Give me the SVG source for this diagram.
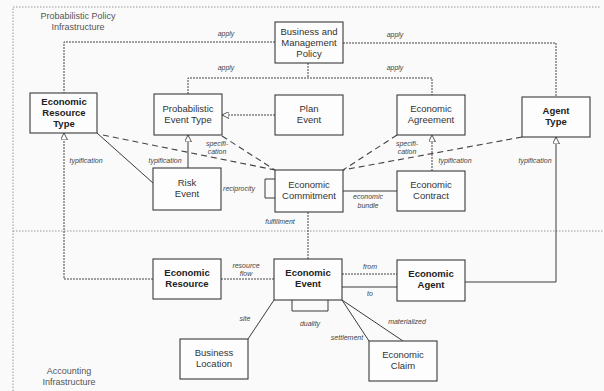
<svg xmlns="http://www.w3.org/2000/svg" width="604" height="391" viewBox="0 0 604 391">
<defs>
<style>
.box{fill:#fdfdfd;stroke:#3a3a3a;stroke-width:1.1}
.t{font-family:"Liberation Sans",Arial,sans-serif;font-size:9.5px;fill:#333;text-anchor:middle}
.b{font-weight:bold;fill:#222}
.lb{font-family:"Liberation Sans",Arial,sans-serif;font-size:7px;font-style:italic;fill:#444;text-anchor:middle}
.reg{font-family:"Liberation Sans",Arial,sans-serif;font-size:9px;fill:#555;text-anchor:middle}
.s{fill:none;stroke:#3a3a3a;stroke-width:1}
.d{fill:none;stroke:#444;stroke-width:1;stroke-dasharray:2,1}
.dl{fill:none;stroke:#444;stroke-width:1.1;stroke-dasharray:6,4}
.fr{fill:none;stroke:#999;stroke-width:1;stroke-dasharray:1.5,1.5}
</style>
<marker id="tri" viewBox="0 0 10 10" refX="10" refY="5" markerWidth="7" markerHeight="7" orient="auto" markerUnits="userSpaceOnUse">
<path d="M0,0 L10,5 L0,10 Z" fill="#fff" stroke="#3a3a3a" stroke-width="1.2"/>
</marker>
</defs>
<rect width="604" height="391" fill="#fafafa"/>
<g id="frame">
<path class="fr" d="M13,391 V7 H600"/>
<path class="fr" d="M13,231 H604"/>
<text class="reg" x="78" y="19">Probabilistic Policy</text>
<text class="reg" x="78" y="30">Infrastructure</text>
<text class="reg" x="69" y="374">Accounting</text>
<text class="reg" x="69" y="385">Infrastructure</text>
</g>
<g id="connectors">
<path class="d" d="M275,42 H64 V93"/>
<path class="d" d="M343,43 H556 V97"/>
<path class="d" d="M308,63 V78 M188,94 V78 H432 V95"/>
<path class="d" d="M275,115 H222" marker-end="url(#tri)"/>
<path class="d" d="M153,279 H64 V133" marker-end="url(#tri)"/>
<path class="s" d="M188,168 V135" marker-end="url(#tri)"/>
<path class="d" d="M432,171 V135" marker-end="url(#tri)"/>
<path class="s" d="M465,282 H556 V137" marker-end="url(#tri)"/>
<path class="s" d="M97,133 L153,183"/>
<path class="dl" d="M103,135 L275,170"/>
<path class="dl" d="M222,136 L275,170"/>
<path class="dl" d="M397,135 L343,170"/>
<path class="dl" d="M522,137 L343,170"/>
<path class="s" d="M275,179 H265 V198 H275"/>
<path class="s" d="M343,191 H397"/>
<path class="d" d="M308,212 V259"/>
<path class="d" d="M221,279 H274"/>
<path class="d" d="M342,274 H397"/>
<path class="s" d="M342,287 H397"/>
<path class="s" d="M292,300 V311 H328 V300"/>
<path class="s" d="M274,300 L248,339"/>
<path class="s" d="M342,300 L369,341"/>
<path class="s" d="M342,300 L403,341"/>
<text class="lb" x="226" y="36">apply</text>
<text class="lb" x="395" y="37">apply</text>
<text class="lb" x="226" y="70">apply</text>
<text class="lb" x="395" y="70">apply</text>
<text class="lb" x="86" y="163">typification</text>
<text class="lb" x="165" y="163">typification</text>
<text class="lb" x="217" y="146">specifi-</text>
<text class="lb" x="217" y="154">cation</text>
<text class="lb" x="407" y="146">specifi-</text>
<text class="lb" x="407" y="154">cation</text>
<text class="lb" x="455" y="163">typification</text>
<text class="lb" x="535" y="163">typification</text>
<text class="lb" x="239" y="191">reciprocity</text>
<text class="lb" x="368" y="199">economic</text>
<text class="lb" x="368" y="208">bundle</text>
<text class="lb" x="280" y="224">fulfillment</text>
<text class="lb" x="246" y="268">resource</text>
<text class="lb" x="246" y="276">flow</text>
<text class="lb" x="370" y="269">from</text>
<text class="lb" x="370" y="296">to</text>
<text class="lb" x="245" y="321">site</text>
<text class="lb" x="310" y="326">duality</text>
<text class="lb" x="347" y="340">settlement</text>
<text class="lb" x="407" y="324">materialized</text>
</g>
<g id="bmp"><rect class="box" x="275" y="22" width="68" height="41"/>
<text class="t" x="309" y="35">Business and</text><text class="t" x="309" y="46">Management</text><text class="t" x="309" y="57">Policy</text></g>
<g id="ert"><rect class="box" x="30" y="93" width="67" height="40"/>
<text class="t b" x="64" y="105">Economic</text><text class="t b" x="64" y="116">Resource</text><text class="t b" x="64" y="127">Type</text></g>
<g id="pet"><rect class="box" x="154" y="94" width="68" height="41"/>
<text class="t" x="188" y="112">Probabilistic</text><text class="t" x="188" y="123">Event Type</text></g>
<g id="plan"><rect class="box" x="275" y="95" width="68" height="40"/>
<text class="t" x="309" y="112">Plan</text><text class="t" x="309" y="123">Event</text></g>
<g id="agreement"><rect class="box" x="397" y="95" width="68" height="40"/>
<text class="t" x="431" y="112">Economic</text><text class="t" x="431" y="123">Agreement</text></g>
<g id="agenttype"><rect class="box" x="522" y="97" width="68" height="40"/>
<text class="t b" x="556" y="114">Agent</text><text class="t b" x="556" y="125">Type</text></g>
<g id="risk"><rect class="box" x="153" y="168" width="68" height="42"/>
<text class="t" x="187" y="186">Risk</text><text class="t" x="187" y="197">Event</text></g>
<g id="commitment"><rect class="box" x="275" y="170" width="68" height="42"/>
<text class="t" x="309" y="188">Economic</text><text class="t" x="309" y="199">Commitment</text></g>
<g id="contract"><rect class="box" x="397" y="171" width="68" height="40"/>
<text class="t" x="431" y="188">Economic</text><text class="t" x="431" y="199">Contract</text></g>
<g id="resource"><rect class="box" x="153" y="259" width="68" height="40"/>
<text class="t b" x="187" y="276">Economic</text><text class="t b" x="187" y="287">Resource</text></g>
<g id="event"><rect class="box" x="274" y="259" width="68" height="41"/>
<text class="t b" x="308" y="276">Economic</text><text class="t b" x="308" y="287">Event</text></g>
<g id="agent"><rect class="box" x="397" y="260" width="68" height="41"/>
<text class="t b" x="431" y="277">Economic</text><text class="t b" x="431" y="288">Agent</text></g>
<g id="location"><rect class="box" x="180" y="339" width="68" height="40"/>
<text class="t" x="214" y="356">Business</text><text class="t" x="214" y="367">Location</text></g>
<g id="claim"><rect class="box" x="369" y="341" width="68" height="40"/>
<text class="t" x="403" y="358">Economic</text><text class="t" x="403" y="369">Claim</text></g>
</svg>
